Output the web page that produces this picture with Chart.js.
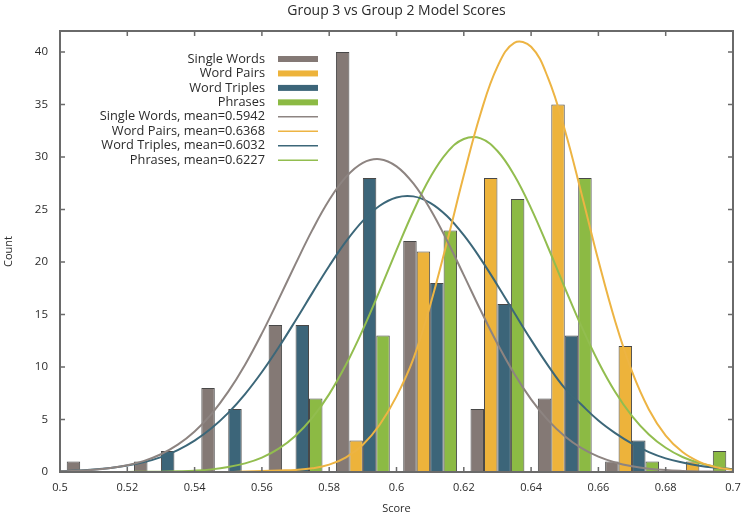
<!DOCTYPE html>
<html>
<head>
<meta charset="utf-8">
<script src="https://cdn.jsdelivr.net/npm/chart.js@4.4.0/dist/chart.umd.min.js"></script>
<style>
  html, body { margin: 0; padding: 0; background: #fff; }
</style>
</head>
<body>
<canvas id="scores" width="747" height="517"></canvas>
<script>
// histogram bins (0.02 wide, centred)
const binCenters = [0.51, 0.53, 0.55, 0.57, 0.59, 0.61, 0.63, 0.65, 0.67, 0.69];
const singleWords = [1, 1, 8, 14, 40, 22, 6, 7, 1, 0];
const wordPairs = [0, 0, 0, 0, 3, 21, 28, 35, 12, 1];
const wordTriples = [0, 2, 6, 14, 28, 18, 16, 13, 3, 0];
const phrases = [0, 0, 0, 7, 13, 23, 26, 28, 1, 2];

const seriesNames = ["Single Words", "Word Pairs", "Word Triples", "Phrases"];
const seriesMeans = ["0.5942", "0.6368", "0.6032", "0.6227"];
const chartTitle = "Group 3 vs Group 2 Model Scores";

// fitted curves, every 0.005
const curveX = [
  0.5, 0.505, 0.51, 0.515, 0.52, 0.525, 0.53, 0.535, 0.54, 0.545,
  0.55, 0.555, 0.56, 0.565, 0.57, 0.575, 0.58, 0.585, 0.59, 0.595,
  0.6, 0.605, 0.61, 0.615, 0.62, 0.625, 0.63, 0.635, 0.64, 0.645,
  0.65, 0.655, 0.66, 0.665, 0.67, 0.675, 0.68, 0.685, 0.69, 0.695, 0.7,
];
const singleCurve = [
  0.06, 0.12, 0.21, 0.38, 0.64, 1.06, 1.69, 2.6, 3.86, 5.52,
  7.65, 10.22, 13.2, 16.46, 19.82, 23.06, 25.9, 28.1, 29.44, 29.79,
  29.11, 27.48, 25.05, 22.05, 18.75, 15.4, 12.21, 9.35, 6.92, 4.94,
  3.41, 2.27, 1.46, 0.91, 0.55, 0.32, 0.18, 0.1, 0.05, 0.03, 0.01,
];
const pairsCurve = [
  0, 0, 0, 0, 0, 0, 0, 0, 0, 0,
  0, 0.05, 0.1, 0.15, 0.2, 0.35, 0.7, 1.4, 2.6, 4.5,
  7.2, 10.77, 15.87, 21.89, 28.26, 34.15, 38.61, 40.87, 40.5, 37.56,
  32.6, 26.48, 20.14, 14.34, 9.55, 5.96, 3.47, 1.9, 0.97, 0.46, 0.21,
];
const triplesCurve = [
  0.08, 0.14, 0.23, 0.38, 0.61, 0.94, 1.42, 2.09, 2.99, 4.16,
  5.63, 7.42, 9.52, 11.88, 14.43, 17.06, 19.62, 21.96, 23.92, 25.36,
  26.15, 26.25, 25.64, 24.38, 22.55, 20.3, 17.79, 15.16, 12.58, 10.16,
  7.98, 6.4, 4.9, 3.7, 2.7, 1.9, 1.3, 0.9, 0.6, 0.4, 0.25,
];
const phrasesCurve = [
  0, 0, 0, 0.01, 0.01, 0.02, 0.03, 0.07, 0.13, 0.25,
  0.47, 0.82, 1.37, 2.22, 3.46, 5.17, 7.42, 10.23, 13.56, 17.27,
  21.12, 24.83, 28.04, 30.42, 31.71, 31.77, 30.57, 28.26, 25.11, 21.43,
  17.57, 13.84, 10.48, 7.62, 5.33, 3.58, 2.31, 1.43, 0.85, 0.49, 0.27,
];

const barColors = ["#847975", "#edb33b", "#3c6579", "#8cba44"];
const lineColors = ["#8d8481", "#edb443", "#3c6779", "#92bd4f"];
const barEdge = "rgba(40,40,40,0.85)";
const fontFamily = '"Open Sans", sans-serif';
const textColor = "#2b2b2b";

const toBars = (values) => binCenters.map((x, i) => ({ x, y: values[i] || null }));
const toPoints = (values) => curveX.map((x, i) => ({ x, y: values[i] }));

const barSeries = [singleWords, wordPairs, wordTriples, phrases];
const curveSeries = [singleCurve, pairsCurve, triplesCurve, phrasesCurve];

const barDatasets = barSeries.map((values, i) => ({
  type: "bar",
  label: seriesNames[i],
  data: toBars(values),
  backgroundColor: barColors[i],
  borderColor: barEdge,
  borderWidth: 1,
  categoryPercentage: 0.8,
  barPercentage: 1,
  order: 2,
}));

const lineDatasets = curveSeries.map((values, i) => ({
  type: "line",
  label: `${seriesNames[i]}, mean=${seriesMeans[i]}`,
  data: toPoints(values),
  borderColor: lineColors[i],
  borderWidth: 2,
  pointRadius: 0,
  fill: false,
  tension: 0.4,
  order: 1,
}));

// title centred over the plot, legend inside the plot
const plotText = {
  id: "plotText",
  afterDatasetsDraw(chart) {
    const { ctx, chartArea } = chart;
    ctx.save();
    ctx.fillStyle = textColor;
    ctx.font = `14px ${fontFamily}`;
    ctx.textAlign = "center";
    ctx.textBaseline = "middle";
    ctx.fillText(chartTitle, (chartArea.left + chartArea.right) / 2, 11);

    const textRight = chartArea.left + 205;
    const swatchX = chartArea.left + 218;
    const swatchW = 40;
    const rowH = 14.45;
    let y = chartArea.top + 28;
    ctx.font = `12.8px ${fontFamily}`;
    ctx.textAlign = "right";
    barDatasets.forEach((ds) => {
      ctx.fillStyle = textColor;
      ctx.fillText(ds.label, textRight, y);
      ctx.fillStyle = ds.backgroundColor;
      ctx.fillRect(swatchX, y - 3, swatchW, 6);
      y += rowH;
    });
    lineDatasets.forEach((ds) => {
      ctx.fillStyle = textColor;
      ctx.fillText(ds.label, textRight, y);
      ctx.strokeStyle = ds.borderColor;
      ctx.lineWidth = 1.5;
      ctx.beginPath();
      ctx.moveTo(swatchX, y);
      ctx.lineTo(swatchX + swatchW, y);
      ctx.stroke();
      y += rowH;
    });
    ctx.restore();
  },
};

// box round the plot with inward tick marks on all four sides
const frameTicks = {
  id: "frameTicks",
  afterDraw(chart) {
    const { ctx, chartArea: a, scales } = chart;
    const len = 5;
    ctx.save();
    ctx.strokeStyle = "#6a6a6a";
    ctx.lineWidth = 1.5;
    ctx.beginPath();
    scales.x.ticks.forEach((t) => {
      const px = scales.x.getPixelForValue(t.value);
      ctx.moveTo(px, a.bottom);
      ctx.lineTo(px, a.bottom - len);
      ctx.moveTo(px, a.top);
      ctx.lineTo(px, a.top + len);
    });
    scales.y.ticks.forEach((t) => {
      const py = scales.y.getPixelForValue(t.value);
      ctx.moveTo(a.left, py);
      ctx.lineTo(a.left + len, py);
      ctx.moveTo(a.right, py);
      ctx.lineTo(a.right - len, py);
    });
    ctx.stroke();
    ctx.lineWidth = 2;
    ctx.strokeRect(a.left, a.top, a.right - a.left, a.bottom - a.top);
    ctx.restore();
  },
};

new Chart(document.getElementById("scores"), {
  type: "bar",
  data: { datasets: [...lineDatasets, ...barDatasets] },
  options: {
    responsive: false,
    animation: false,
    layout: { padding: { left: 0, right: 14, top: 31, bottom: 0 } },
    plugins: {
      legend: { display: false },
      tooltip: { enabled: false },
      title: { display: false },
    },
    scales: {
      x: {
        type: "linear",
        min: 0.5,
        max: 0.7,
        offset: false,
        grid: { display: false, drawTicks: false },
        border: { display: false },
        ticks: {
          stepSize: 0.02,
          padding: 9,
          autoSkip: false,
          maxRotation: 0,
          color: textColor,
          font: { family: fontFamily, size: 11 },
          callback: (value) => String(Number(value.toFixed(2))),
        },
        title: {
          display: true,
          text: "Score",
          color: textColor,
          font: { family: fontFamily, size: 11 },
          padding: { top: 0, bottom: 2 },
        },
        afterFit(scale) {
          scale.height = 45;
          scale.paddingLeft = 0;
          scale.paddingRight = 0;
        },
      },
      y: {
        min: 0,
        max: 42,
        grid: { display: false, drawTicks: false },
        border: { display: false },
        ticks: {
          stepSize: 5,
          padding: 12,
          color: textColor,
          font: { family: fontFamily, size: 11.5 },
        },
        afterBuildTicks(scale) {
          scale.ticks = scale.ticks.filter((t) => t.value % 5 === 0);
        },
        title: {
          display: true,
          text: "Count",
          color: textColor,
          font: { family: fontFamily, size: 11 },
          padding: { top: 2, bottom: 0 },
        },
        afterFit(scale) {
          scale.width = 60;
          scale.paddingTop = 0;
          scale.paddingBottom = 0;
        },
      },
    },
  },
  plugins: [plotText, frameTicks],
});
</script>
</body>
</html>
